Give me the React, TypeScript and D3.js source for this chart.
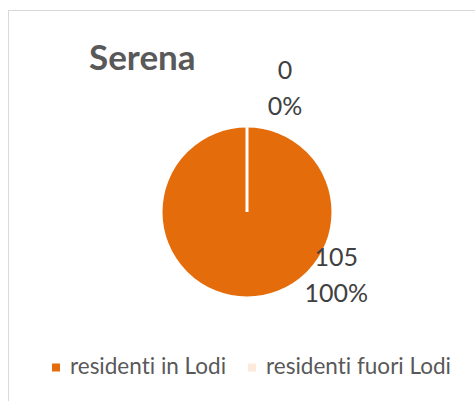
import React, { useEffect, useRef } from "react";
import * as d3 from "d3";

// chart data
const title = "Serena";
const categories = ["residenti in Lodi", "residenti fuori Lodi"];
const values = [105, 0];
const colors = ["#E46C0A", "#FDEADA"];

const W = 475;
const H = 401;

export default function App() {
  const ref = useRef<SVGSVGElement>(null);

  useEffect(() => {
    const svg = d3.select(ref.current);
    svg.selectAll("*").remove();

    // chart frame (runs off the right and bottom edges)
    svg.append("rect")
      .attr("x", 8.5).attr("y", 10.5)
      .attr("width", W + 20).attr("height", H + 20)
      .attr("fill", "#fff")
      .attr("stroke", "#d9d9d9")
      .attr("stroke-width", 1);

    svg.append("text")
      .attr("x", 89).attr("y", 70)
      .attr("font-family", "Lato, sans-serif")
      .attr("font-weight", "bold")
      .attr("font-size", 35)
      .attr("fill", "#595959")
      .text(title);

    const cx = 247, cy = 212, radius = 86;
    const total = d3.sum(values);

    const pie = d3.pie<number>().sort(null).value(d => d);
    const arc = d3.arc<d3.PieArcDatum<number>>().innerRadius(0).outerRadius(radius);
    const arcs = pie(values);

    const g = svg.append("g").attr("transform", `translate(${cx},${cy})`);
    g.selectAll("path")
      .data(arcs)
      .enter()
      .append("path")
      .attr("d", arc)
      .attr("fill", (d, i) => colors[i])
      .attr("stroke", "#fff")
      .attr("stroke-width", 3);

    // label placement (best fit) as polar offsets from pie centre
    const labelPos = [
      { angle: 125, dist: 109 },
      { angle: 17, dist: 130 },
    ];
    const pct = d3.format(".0%");
    const lineGap = 36;

    arcs.forEach((d, i) => {
      const a = (labelPos[i].angle * Math.PI) / 180;
      const lx = Math.sin(a) * labelPos[i].dist;
      const ly = -Math.cos(a) * labelPos[i].dist;
      const t = g.append("text")
        .attr("x", lx)
        .attr("y", ly)
        .attr("text-anchor", "middle")
        .attr("font-family", "Lato, sans-serif")
        .attr("font-size", 25)
        .attr("fill", "#404040");
      t.append("tspan").attr("x", lx).attr("y", ly - lineGap / 2 + 9).text(String(d.data));
      t.append("tspan").attr("x", lx).attr("y", ly + lineGap / 2 + 9).text(pct(total ? d.data / total : 0));
    });

    // legend
    const legend = svg.append("g");
    const items = legend.selectAll("g")
      .data(categories)
      .enter()
      .append("g");
    items.append("rect")
      .attr("width", 8).attr("height", 8)
      .attr("y", 363.5)
      .attr("fill", (d, i) => colors[i]);
    items.append("text")
      .attr("x", 18)
      .attr("y", 374)
      .attr("font-family", "Lato, sans-serif")
      .attr("font-size", 22.5)
      .style("font-variant-ligatures", "none")
      .attr("fill", "#595959")
      .text(d => d);

    const gap = 22;
    let x = 0;
    const offsets: number[] = [];
    items.each(function () {
      offsets.push(x);
      const tw = (d3.select(this).select("text").node() as SVGTextElement).getComputedTextLength();
      x += 18 + tw + gap;
    });
    const totalW = x - gap;
    const start = 251.5 - totalW / 2;
    items.attr("transform", (d, i) => `translate(${start + offsets[i]},0)`);
  }, []);

  return (
    <div style={{ position: "absolute", left: 0, top: 0 }}>
      <svg ref={ref} width={W} height={H} style={{ display: "block" }} />
    </div>
  );
}
